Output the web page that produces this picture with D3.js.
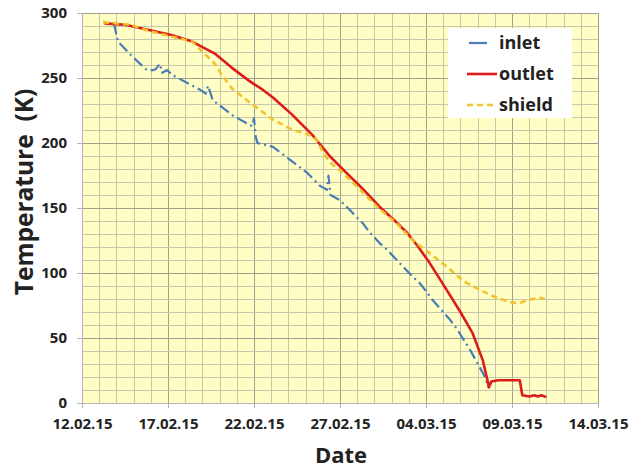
<!DOCTYPE html>
<html><head><meta charset="utf-8">
<script src="https://cdn.jsdelivr.net/npm/d3@7"></script>
<style>
body{margin:0;background:#fff;}
svg{display:block;font-family:"Open Sans",sans-serif;}
</style></head>
<body><svg id="chart" width="644" height="469"></svg>
<script>
// Data: days after 12.02.2015, temperature in K
const baseDate = "12.02.15";
const inletDays = [1.86,2.09,2.97,3.78,4.13,4.3,4.53,4.65,4.94,5.29,6.86,7.2,7.33,7.6,8.78,9.88,10.0,10.1,10.2,11.1,12.1,13.1,13.84,14.24,14.33,14.45,15.0,15.6,16.34,16.74,17.3,17.73,18.3,18.66,19.24,19.65,20.06,20.4,20.8,21.4,21.8,22.6,23.35,23.65];
const inletTemp = [292,278,266,256,256,257,261,254,256,252,241,238,244,233,221,213,219,205,200,197,187,177,167,164,175,160,156,148,138,131,123,118,110,105,97,92,85,79,73,64,57,40,22,12];
const outletDays = [1.3,2.5,3.9,5.2,6.4,7.7,8.7,9.7,10.5,11.1,12.2,13.4,14.4,15.3,16.3,17.3,18.2,18.9,19.5,20.2,21.2,22.0,22.7,23.3,23.6,23.65,23.8,24.2,25.45,25.6,26.0,26.3,26.5,26.7,27.0];
const outletTemp = [292,291,287,283,278,269,258,248,241,235,222,206,190,178,165,151,140,131,121,108,87,70,54,33,16,12,16.5,17.5,17.5,6,5,6,5,6,4.5];
const shieldDays = [1.22,2.79,3.95,6.4,6.86,7.73,8.14,8.72,9.77,11.1,12.27,13.08,13.4,13.66,14.0,14.42,15.0,15.87,17.15,18.3,19.24,20.23,21.2,22.15,23.14,24.1,25.06,25.47,25.87,26.6,26.9];
const shieldTemp = [293,291,286,278,272,261,252,242,231,218,210,207,205,202,193,185,179,168,151,138,125,115,105,94,87,81,77,77,79,81,80];
const tickLabels = ["12.02.15","17.02.15","22.02.15","27.02.15","04.03.15","09.03.15","14.03.15"];
const yTicks = [0,50,100,150,200,250,300];
const seriesNames = ["inlet","outlet","shield"];

const parse = d3.timeParse("%d.%m.%y");
const fmt = d3.timeFormat("%d.%m.%y");
const base = parse(baseDate);
const toDate = d => new Date(base.getTime() + d*86400000);

const svg = d3.select("#chart");
const L=82, R=598, T=13, B=403;
const x = d3.scaleTime().domain([parse(tickLabels[0]), parse(tickLabels[tickLabels.length-1])]).range([L,R]);
const y = d3.scaleLinear().domain([0,300]).range([B,T]);

// plot background
svg.append("rect").attr("x",L).attr("y",T).attr("width",R-L).attr("height",B-T).attr("fill","#FFFEC4");

// grid
const days = d3.timeDay.range(x.domain()[0], d3.timeDay.offset(x.domain()[1],1));
svg.append("g").selectAll("line").data(days).join("line")
  .attr("x1",d=>Math.round(x(d))+0.5).attr("x2",d=>Math.round(x(d))+0.5).attr("y1",T).attr("y2",B)
  .attr("stroke",(d,i)=> i%5===0 ? "#a0a090" : "#c6c6ab").attr("stroke-width",1);
const hvals = d3.range(0,301,10);
svg.append("g").selectAll("line").data(hvals).join("line")
  .attr("y1",d=>Math.round(y(d))+0.5).attr("y2",d=>Math.round(y(d))+0.5).attr("x1",L).attr("x2",R)
  .attr("stroke",d=> d%50===0 ? "#a0a090" : "#c6c6ab").attr("stroke-width",1);

// axes
const xAxis = d3.axisBottom(x).tickValues(tickLabels.map(parse)).tickFormat(fmt).tickSize(5).tickPadding(10);
const gx = svg.append("g").attr("transform",`translate(0,${B})`).call(xAxis);
const yAxis = d3.axisLeft(y).tickValues(yTicks).tickSize(5).tickPadding(10);
const gy = svg.append("g").attr("transform",`translate(${L},0)`).call(yAxis);
[gx,gy].forEach(g=>{
  g.select(".domain").attr("stroke","#b5b5b5");
  g.selectAll(".tick line").attr("stroke","#b5b5b5");
  g.selectAll(".tick text").attr("font-family","Open Sans, sans-serif").attr("font-size",15).attr("font-weight","bold").attr("fill","#222");
});

// lines
const line = d3.line().x(d=>x(toDate(d[0]))).y(d=>y(d[1]));
const series = [
  {name:"inlet", days:inletDays, temp:inletTemp, color:"#4a7db6", dash:"11,4,2,4", w:2.2},
  {name:"outlet", days:outletDays, temp:outletTemp, color:"#dc1c1c", dash:null, w:2.6},
  {name:"shield", days:shieldDays, temp:shieldTemp, color:"#f2c22c", dash:"6,4", w:2.6}
];
series.forEach(s=>{
  svg.append("path").datum(s.days.map((d,i)=>[d,s.temp[i]]))
    .attr("d",line).attr("fill","none").attr("stroke",s.color).attr("stroke-width",s.w)
    .attr("stroke-dasharray",s.dash).attr("stroke-linejoin","round");
});

// legend
const lg = svg.append("g");
lg.append("rect").attr("x",448).attr("y",28).attr("width",124).attr("height",90).attr("fill","#fff");
series.forEach((s,i)=>{
  const yy = 43 + i*31;
  lg.append("line").attr("x1", s.name==="inlet"?469:467).attr("x2", s.name==="inlet"?487:497).attr("y1",yy).attr("y2",yy)
    .attr("stroke",s.color).attr("stroke-width",s.w).attr("stroke-dasharray", s.name==="shield"? "6,4": null);
  lg.append("text").attr("x",499).attr("y",yy+6).text(seriesNames[i])
    .attr("font-size",18).attr("font-weight","bold").attr("fill","#222");
});

// axis titles
svg.append("text").attr("x",341).attr("y",463).attr("text-anchor","middle")
  .attr("font-size",22).attr("font-weight","bold").attr("fill","#222").text("Date");
svg.append("text").attr("transform","translate(33,192) rotate(-90)").attr("text-anchor","middle")
  .attr("font-size",24.5).attr("font-weight","bold").attr("fill","#222").attr("xml:space","preserve")
  .style("white-space","pre").text("Temperature  (K)");
</script></body></html>
